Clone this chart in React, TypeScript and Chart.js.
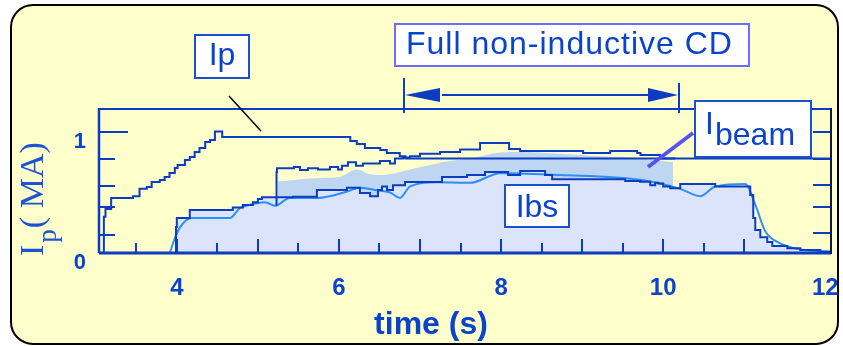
import React, { useEffect, useRef } from "react";
import { Chart, registerables } from "chart.js";

Chart.register(...registerables);

const DARK = "#0b3cc1";
const TEXT = "#0b44cc";
const LIGHT = "#2b8ff5";
const LAVENDER = "#dce4fb";
const BEAM_FILL = "#bed6f1";
const PANEL = "#ffffcc";
const SANS = "'Liberation Sans', Arial, sans-serif";
const SERIF = "'Liberation Serif', 'Times New Roman', serif";

// axes
const xTickLabels = [4, 6, 8, 10, 12];
const yTickLabels = [0, 1];
const xMinorTicks = [3.5, 4, 4.5, 5, 5.5, 6, 6.5, 7, 7.5, 8, 8.5, 9, 9.5, 10, 10.5, 11];
const yLeftTicks = [0.15, 0.38, 0.55, 0.78, 1.0];
const yRightTicks = [0.165, 0.38, 0.56, 0.78, 1.0];
const cdWindow = [6.8, 10.2];

// Ip (plasma current, MA)
const ipTime = [3.10, 3.12, 3.19, 3.46, 3.54, 3.63, 3.69, 3.79, 3.85, 3.91, 3.975, 4.01, 4.10, 4.16, 4.22, 4.28, 4.35, 4.41, 4.47, 4.56, 6.14, 6.22, 6.32, 6.51, 6.59, 6.75, 6.82, 6.89, 12.07];
const ipValue = [0, 0.30, 0.364, 0.455, 0.47, 0.53, 0.545, 0.587, 0.603, 0.628, 0.661, 0.702, 0.727, 0.769, 0.793, 0.835, 0.868, 0.917, 0.934, 1.004, 0.959, 0.926, 0.901, 0.868, 0.851, 0.826, 0.80, 0.781, 0.781];

// Ibs + Ibeam (upper stepped trace)
const beamTotalTime = [5.23, 5.235, 5.444, 5.519, 5.617, 5.741, 5.889, 5.988, 6.037, 6.111, 6.21, 6.296, 6.506, 6.63, 6.691, 6.79, 6.877, 7.0, 7.247, 7.494, 7.741, 8.099, 8.235, 9.012, 9.346, 9.679, 9.72, 9.963, 10.148];
const beamTotalValue = [0.39, 0.669, 0.70, 0.71, 0.686, 0.70, 0.69, 0.71, 0.69, 0.72, 0.75, 0.72, 0.74, 0.76, 0.74, 0.78, 0.79, 0.80, 0.82, 0.835, 0.855, 0.91, 0.86, 0.843, 0.826, 0.843, 0.826, 0.81, 0.78];

// Ibeam shaded band (upper edge)
const beamFillTime = [5.247, 5.519, 5.765, 6.012, 6.222, 6.383, 6.506, 6.691, 6.815, 7.21, 7.37, 7.617, 7.988, 8.235, 8.728, 9.222, 9.593, 9.84, 10.123];
const beamFillValue = [0.59, 0.61, 0.62, 0.63, 0.69, 0.65, 0.645, 0.66, 0.68, 0.74, 0.76, 0.78, 0.83, 0.835, 0.82, 0.80, 0.79, 0.77, 0.75];

// Ibs (bootstrap current, stepped measurement)
const ibsTime = [3.99, 4.0, 4.16, 4.69, 4.815, 4.938, 5.0, 5.05, 5.432, 5.728, 6.099, 6.259, 6.383, 6.481, 6.531, 6.593, 6.667, 6.815, 7.272, 7.58, 7.802, 8.086, 8.235, 8.543, 8.63, 9.531, 9.716, 9.84, 9.901, 9.938, 10.0, 10.086, 10.21, 10.642, 11.074, 11.111, 11.136, 11.198, 11.284, 11.346, 11.531, 11.691, 11.938, 12.07];
const ibsValue = [0, 0.215, 0.29, 0.355, 0.376, 0.397, 0.42, 0.446, 0.46, 0.465, 0.52, 0.54, 0.496, 0.47, 0.52, 0.55, 0.52, 0.56, 0.587, 0.628, 0.645, 0.669, 0.645, 0.678, 0.645, 0.61, 0.595, 0.588, 0.56, 0.58, 0.575, 0.55, 0.535, 0.57, 0.55, 0.48, 0.29, 0.19, 0.13, 0.09, 0.058, 0.04, 0.025, 0.01];

// Ibs (smooth calculated trace)
const fitTime = [3.914, 3.975, 4.037, 4.185, 4.654, 4.778, 4.988, 5.086, 5.21, 5.395, 5.741, 6.111, 6.259, 6.444, 6.63, 6.753, 6.877, 7.21, 7.617, 7.988, 8.728, 9.716, 10.21, 10.457, 10.642, 11.012, 11.136, 11.259, 11.444, 11.691, 12.07];
const fitValue = [0, 0.12, 0.21, 0.29, 0.29, 0.37, 0.41, 0.42, 0.39, 0.455, 0.455, 0.51, 0.54, 0.52, 0.50, 0.455, 0.55, 0.585, 0.58, 0.66, 0.645, 0.605, 0.53, 0.47, 0.55, 0.57, 0.40, 0.18, 0.08, 0.03, 0.01];

const pts = (xs: number[], ys: number[]) => xs.map((x, i) => ({ x, y: ys[i] }));

function line(ctx: CanvasRenderingContext2D, x1: number, y1: number, x2: number, y2: number) {
  ctx.beginPath();
  ctx.moveTo(x1, y1);
  ctx.lineTo(x2, y2);
  ctx.stroke();
}

function labelBox(ctx: CanvasRenderingContext2D, x: number, y: number, w: number, h: number, stroke: string) {
  ctx.fillStyle = "#ffffff";
  ctx.fillRect(x, y, w, h);
  ctx.lineWidth = 2;
  ctx.strokeStyle = stroke;
  ctx.strokeRect(x, y, w, h);
}

const decor = {
  id: "decor",
  beforeDraw(chart: any) {
    const ctx: CanvasRenderingContext2D = chart.ctx;
    ctx.save();
    ctx.fillStyle = "#ffffff";
    ctx.fillRect(0, 0, chart.width, chart.height);
    ctx.beginPath();
    (ctx as any).roundRect(11, 5, 827, 339, 22);
    ctx.fillStyle = PANEL;
    ctx.fill();
    ctx.lineWidth = 2;
    ctx.strokeStyle = "#000000";
    ctx.stroke();
    ctx.restore();
  },
  afterDatasetsDraw(chart: any) {
    const ctx: CanvasRenderingContext2D = chart.ctx;
    const a = chart.chartArea;
    const xs = chart.scales.x;
    const ys = chart.scales.y;
    ctx.save();
    ctx.strokeStyle = DARK;
    ctx.lineWidth = 2;
    xMinorTicks.forEach((v) => {
      const px = Math.round(xs.getPixelForValue(v));
      const len = Number.isInteger(v) ? 14 : 10;
      line(ctx, px, a.bottom, px, a.bottom - len);
    });
    yLeftTicks.forEach((v) => {
      const py = Math.round(ys.getPixelForValue(v));
      line(ctx, a.left, py, a.left + (v === 1 ? 29 : 16), py);
    });
    yRightTicks.forEach((v) => {
      const py = Math.round(ys.getPixelForValue(v));
      line(ctx, a.right, py, a.right - 18, py);
    });
    // frame
    ctx.lineWidth = 2;
    line(ctx, a.left, a.top, a.right, a.top);
    ctx.lineWidth = 2.5;
    line(ctx, a.left, a.top - 1, a.left, a.bottom);
    ctx.lineWidth = 3;
    line(ctx, a.left, a.bottom, a.right, a.bottom);
    ctx.strokeStyle = "#101850";
    ctx.lineWidth = 2;
    line(ctx, a.right, a.top - 1, a.right, a.bottom + 1);
    ctx.restore();
  },
  afterDraw(chart: any) {
    const ctx: CanvasRenderingContext2D = chart.ctx;
    const a = chart.chartArea;
    const xs = chart.scales.x;
    ctx.save();

    // Ip label + pointer
    labelBox(ctx, 195, 35, 54, 43, "#1a4fd0");
    ctx.fillStyle = TEXT;
    ctx.font = `32px ${SANS}`;
    ctx.textAlign = "center";
    ctx.textBaseline = "alphabetic";
    ctx.fillText("Ip", 222, 65);
    ctx.strokeStyle = "#000000";
    ctx.lineWidth = 1.5;
    line(ctx, 229, 96, 261, 131);

    // Full non-inductive CD label
    labelBox(ctx, 395, 24, 354, 42, "#6b6bff");
    ctx.fillStyle = TEXT;
    ctx.textAlign = "left";
    (ctx as any).letterSpacing = "1px";
    ctx.fillText("Full non-inductive CD", 406, 54);
    (ctx as any).letterSpacing = "0px";

    // arrow over the CD window
    const xs0 = Math.round(xs.getPixelForValue(cdWindow[0]));
    const xs1 = Math.round(xs.getPixelForValue(cdWindow[1]));
    ctx.strokeStyle = DARK;
    ctx.fillStyle = DARK;
    ctx.lineWidth = 2;
    line(ctx, xs0, 78, xs0, a.top + 4);
    line(ctx, xs1, 83, xs1, a.top + 4);
    line(ctx, xs0 + 38, 95, xs1 - 28, 95);
    ctx.beginPath();
    ctx.moveTo(xs0 + 1, 95);
    ctx.lineTo(xs0 + 36, 88);
    ctx.lineTo(xs0 + 36, 102);
    ctx.closePath();
    ctx.fill();
    ctx.beginPath();
    ctx.moveTo(xs1 - 1, 95);
    ctx.lineTo(xs1 - 31, 88);
    ctx.lineTo(xs1 - 31, 102);
    ctx.closePath();
    ctx.fill();

    // Ibeam label + pointer
    ctx.strokeStyle = "#5555ee";
    ctx.lineWidth = 4;
    line(ctx, 648, 167, 693, 133);
    labelBox(ctx, 695, 101, 116, 56, "#1a4fd0");
    ctx.fillStyle = TEXT;
    ctx.font = `32px ${SANS}`;
    ctx.textAlign = "left";
    ctx.fillText("I", 705, 134);
    ctx.fillText("beam", 715, 145);

    // Ibs label
    labelBox(ctx, 505, 185, 64, 42, "#1a4fd0");
    ctx.fillStyle = TEXT;
    ctx.textAlign = "center";
    ctx.fillText("Ibs", 537, 217);

    // x-axis title
    ctx.font = `bold 32px ${SANS}`;
    ctx.fillText("time (s)", 431, 334);

    // y-axis title with subscript
    ctx.save();
    ctx.translate(43, 256);
    ctx.rotate(-Math.PI / 2);
    ctx.textAlign = "left";
    ctx.fillStyle = "#1d52d4";
    ctx.font = `34px ${SERIF}`;
    ctx.fillText("I", 0, 0);
    const w1 = ctx.measureText("I").width + 2;
    ctx.font = `27px ${SERIF}`;
    ctx.fillText("p", w1, 13);
    const w2 = ctx.measureText("p").width + 1;
    ctx.font = `34px ${SERIF}`;
    ctx.fillText("( MA)", w1 + w2, 0);
    ctx.restore();

    ctx.restore();
  },
};

export default function App() {
  const ref = useRef<HTMLCanvasElement>(null);

  useEffect(() => {
    const canvas = ref.current;
    if (!canvas) return;
    Chart.defaults.font.family = SANS;
    const chart = new Chart(canvas, {
      type: "line",
      data: {
        datasets: [
          {
            label: "Ip",
            data: pts(ipTime, ipValue),
            borderColor: DARK,
            borderWidth: 2,
            stepped: "after",
            fill: false,
            order: 0,
          },
          {
            label: "Ibs+Ibeam",
            data: pts(beamTotalTime, beamTotalValue),
            borderColor: DARK,
            borderWidth: 2,
            stepped: "after",
            fill: false,
            order: 1,
          },
          {
            label: "Ibs",
            data: pts(ibsTime, ibsValue),
            borderColor: DARK,
            borderWidth: 2,
            stepped: "after",
            fill: "origin",
            backgroundColor: LAVENDER,
            order: 2,
          },
          {
            label: "Ibs calc",
            data: pts(fitTime, fitValue),
            borderColor: LIGHT,
            borderWidth: 2,
            tension: 0.35,
            cubicInterpolationMode: "monotone",
            fill: false,
            order: 3,
          },
          {
            label: "Ibeam",
            data: pts(beamFillTime, beamFillValue),
            borderWidth: 0,
            borderColor: BEAM_FILL,
            backgroundColor: BEAM_FILL,
            tension: 0.35,
            cubicInterpolationMode: "monotone",
            fill: "origin",
            order: 4,
          },
        ],
      } as any,
      options: {
        responsive: false,
        animation: false,
        devicePixelRatio: 1,
        events: [],
        layout: { padding: { left: 0, top: 109, right: 12, bottom: 0 } },
        elements: { point: { radius: 0 } },
        plugins: {
          legend: { display: false },
          tooltip: { enabled: false },
          filler: { drawTime: "beforeDatasetsDraw" },
        },
        scales: {
          x: {
            type: "linear",
            min: 3.04,
            max: 12.07,
            bounds: "data",
            grid: { display: false, drawTicks: false },
            border: { display: false },
            ticks: {
              color: TEXT,
              font: { size: 24, weight: "bold" },
              padding: 21,
              maxRotation: 0,
              autoSkip: false,
              callback: (v: any) => String(v),
            },
            afterBuildTicks: (s: any) => {
              s.ticks = xTickLabels.map((v) => ({ value: v }));
            },
            afterFit: (s: any) => {
              s.height = 93;
              s.paddingLeft = 0;
              s.paddingRight = 0;
            },
          },
          y: {
            type: "linear",
            min: 0,
            max: 1.19,
            grid: { display: false, drawTicks: false },
            border: { display: false },
            ticks: {
              color: TEXT,
              font: { size: 22, weight: "bold" },
              padding: 13,
              labelOffset: 10,
              autoSkip: false,
              callback: (v: any) => String(v),
            },
            afterBuildTicks: (s: any) => {
              s.ticks = yTickLabels.map((v) => ({ value: v }));
            },
            afterFit: (s: any) => {
              s.width = 99;
              s.paddingTop = 0;
              s.paddingBottom = 0;
            },
          },
        },
      } as any,
      plugins: [decor],
    });
    return () => chart.destroy();
  }, []);

  return (
    <div style={{ position: "absolute", left: 0, top: 0, width: 843, height: 346 }}>
      <canvas ref={ref} width={843} height={346} style={{ display: "block", width: 843, height: 346 }} />
    </div>
  );
}
